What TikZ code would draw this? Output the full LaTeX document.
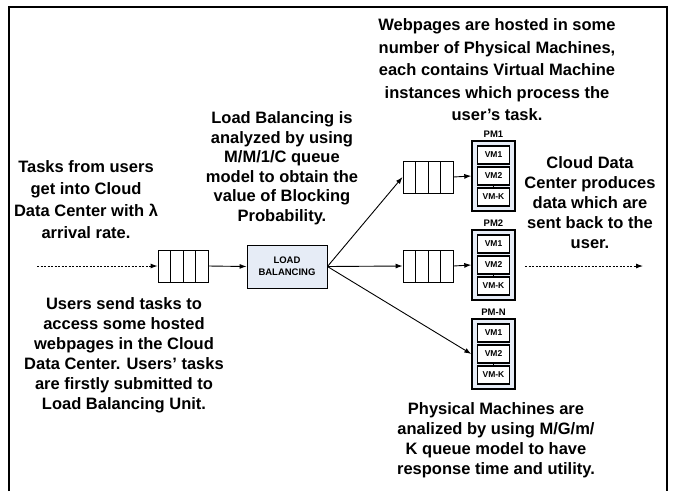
\documentclass[tikz,border=0pt]{standalone}
\usepackage{fontspec}
\setmainfont{Liberation Sans}
\usetikzlibrary{arrows.meta}
\definecolor{boxfill}{RGB}{230,236,246}
\begin{document}
\begin{tikzpicture}[x=1pt,y=-1pt,
  txt/.style={align=center,inner sep=0pt,font=\bfseries\fontsize{16.5}{#1}\selectfont},
  txt/.default=20,
  queue/.style={draw,line width=0.9pt,minimum width=50pt,minimum height=32pt,inner sep=0pt,
    path picture={\foreach \i in {1,2,3} \draw[line width=0.9pt] ([xshift=\i*12.5pt]path picture bounding box.north west) -- ([xshift=\i*12.5pt]path picture bounding box.south west);}},
  lbbox/.style={draw,line width=0.9pt,fill=boxfill,minimum width=80pt,minimum height=43pt,align=center,inner sep=0pt,font=\bfseries\fontsize{9.5}{12}\selectfont},
  pmbox/.style={draw,line width=1.4pt,fill=boxfill,minimum width=43pt,minimum height=70pt,inner sep=0pt},
  vmbox/.style={draw,line width=1.1pt,fill=white,minimum width=32pt,minimum height=18pt,inner sep=0pt,font=\bfseries\fontsize{8.5}{10}\selectfont},
  pmlabel/.style={font=\bfseries\fontsize{9.5}{11}\selectfont,inner sep=0pt,anchor=south},
  arr/.style={line width=0.9pt,-{Latex[length=7pt,width=5pt]}},
  dotarr/.style={arr,dash pattern=on 2pt off 1.5pt}
]
\useasboundingbox (0,0) rectangle (676,491);
\draw[line width=1.2pt] (9,491) -- (9,7) -- (667,7) -- (667,491);

% queues
\node[queue] (q0) at (183,266) {};
\node[queue] (q1) at (428,177) {};
\node[queue] (q2) at (428,266) {};

% load balancer
\node[lbbox] (lb) at (287,266.5) {LOAD\\BALANCING};

% physical machines
\foreach \n/\lab/\y in {pm1/PM1/176, pm2/PM2/265, pmN/PM-N/354}{
  \node[pmbox] (\n) at (493.5,\y) {};
  \node[pmlabel] (\n lab) at ([yshift=3pt]\n.north) {\lab};
  \node[vmbox] (\n a) at (493.5,\y-21) {VM1};
  \node[vmbox] (\n b) at (493.5,\y) {VM2};
  \node[vmbox] (\n c) at (493.5,\y+21) {VM-K};
  \draw[line width=0.8pt] (\n b.south) -- (\n c.north);
}

% connectors
\coordinate (inA) at (37,266);
\draw[dotarr] (inA) -- (q0.west);
\draw[arr] (q0.east) -- (lb.west);
\draw[arr] (lb.east) -- (q1.west);
\draw[arr] (lb.east) -- (q2.west);
\draw[arr] (lb.east) -- (pmN.west);
\draw[arr] (q1.east) -- (pm1.west);
\draw[arr] (q2.east) -- (pm2.west);
\coordinate (outA) at (525,266);
\coordinate (outB) at (643,266);
\draw[dotarr] (outA) -- (outB);

% texts
\node[txt=22] (t1) at (86,200) {Tasks from users\\get into Cloud\\Data Center with λ\\arrival rate.};
\node[txt=19.5] (t2) at (282,168) {Load Balancing is\\analyzed by using\\M/M/1/C queue\\model to obtain the\\value of Blocking\\Probability.};
\node[txt=22.5] (t3) at (497,70) {Webpages are hosted in some\\number of Physical Machines,\\each contains Virtual Machine\\instances which process the\\user's task.};
\node[txt=20] (t4) at (590,203) {Cloud Data\\Center produces\\data which are\\sent back to the\\user.};
\node[txt=20] (t5) at (124,355) {Users send tasks to\\access some hosted\\webpages in the Cloud\\Data Center. Users' tasks\\are firstly submitted to\\Load Balancing Unit.};
\node[txt=20] (t6) at (496,440) {Physical Machines are\\analized by using M/G/m/\\K queue model to have\\response time and utility.};
\end{tikzpicture}
\end{document}
